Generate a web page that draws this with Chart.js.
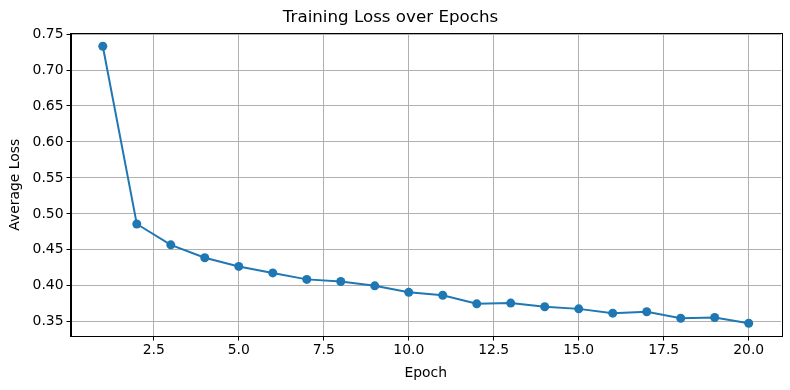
<!DOCTYPE html>
<html>
<head>
<meta charset="utf-8">
<script src="https://cdn.jsdelivr.net/npm/chart.js@4"></script>
<style>
  html, body { margin: 0; padding: 0; background: #fff; }
  #wrap { width: 790px; height: 390px; }
</style>
</head>
<body>
<div id="wrap"><canvas id="lossChart" width="790" height="390"></canvas></div>
<script>
// data
const epochs = [1, 2, 3, 4, 5, 6, 7, 8, 9, 10, 11, 12, 13, 14, 15, 16, 17, 18, 19, 20];
const avgLoss = [0.733, 0.486, 0.457, 0.439, 0.427, 0.418, 0.409, 0.406, 0.400, 0.391,
                 0.387, 0.375, 0.376, 0.371, 0.368, 0.362, 0.364, 0.355, 0.356, 0.348];
const xTicks = [2.5, 5.0, 7.5, 10.0, 12.5, 15.0, 17.5, 20.0];
const yTicks = [0.35, 0.40, 0.45, 0.50, 0.55, 0.60, 0.65, 0.70, 0.75];

const font = "'DejaVu Sans', sans-serif";
Chart.defaults.font.family = font;
Chart.defaults.color = '#000';

// black frame round the plot area, like matplotlib spines
const frame = {
    id: 'frame',
    afterDatasetsDraw(chart) {
        const a = chart.chartArea;
        const c = chart.ctx;
        c.save();
        c.strokeStyle = '#000';
        c.lineWidth = 1;
        c.strokeRect(Math.round(a.left) + 0.5, Math.round(a.top) + 0.5,
                     Math.round(a.right - a.left), Math.round(a.bottom - a.top));
        c.restore();
    }
};

const ctx = document.getElementById('lossChart').getContext('2d');
const lossChart = new Chart(ctx, {
    type: 'line',
    data: {
        datasets: [{
            label: 'Average Loss',
            data: epochs.map((e, i) => ({x: e, y: avgLoss[i]})),
            borderColor: '#1f77b4',
            backgroundColor: '#1f77b4',
            borderWidth: 2,
            pointRadius: 4.5,
            pointHoverRadius: 4.5,
            pointBorderWidth: 0,
            tension: 0
        }]
    },
    options: {
        responsive: false,
        animation: false,
        events: [],
        layout: { padding: { left: 0, right: 9, top: 0, bottom: 0 } },
        plugins: {
            legend: { display: false },
            tooltip: { enabled: false },
            title: {
                display: true,
                text: 'Training Loss over Epochs',
                font: { size: 16.7, weight: 'normal' },
                padding: { top: 8, bottom: 5 }
            }
        },
        scales: {
            x: {
                type: 'linear',
                min: 0.05,
                max: 20.95,
                afterFit: s => { s.height = 53.5; },
                afterBuildTicks: s => { s.ticks = xTicks.map(v => ({value: v})); },
                ticks: {
                    font: { size: 13.9 },
                    padding: 2,
                    maxRotation: 0,
                    callback: v => v.toFixed(1)
                },
                grid: { color: '#b0b0b0', lineWidth: 1, tickColor: '#000', tickLength: 4 },
                border: { color: '#000' },
                title: {
                    display: true,
                    text: 'Epoch',
                    font: { size: 13.9 },
                    padding: { top: 0, bottom: 8 }
                }
            },
            y: {
                type: 'linear',
                min: 0.3296,
                max: 0.7514,
                afterFit: s => { s.width = 70.5; },
                afterBuildTicks: s => { s.ticks = yTicks.map(v => ({value: v})); },
                ticks: {
                    font: { size: 13.9 },
                    padding: 3,
                    callback: v => v.toFixed(2)
                },
                grid: { color: '#b0b0b0', lineWidth: 1, tickColor: '#000', tickLength: 4 },
                border: { color: '#000' },
                title: {
                    display: true,
                    text: 'Average Loss',
                    font: { size: 13.9 },
                    padding: { top: 7, bottom: 0 }
                }
            }
        }
    },
    plugins: [frame]
});
</script>
</body>
</html>
